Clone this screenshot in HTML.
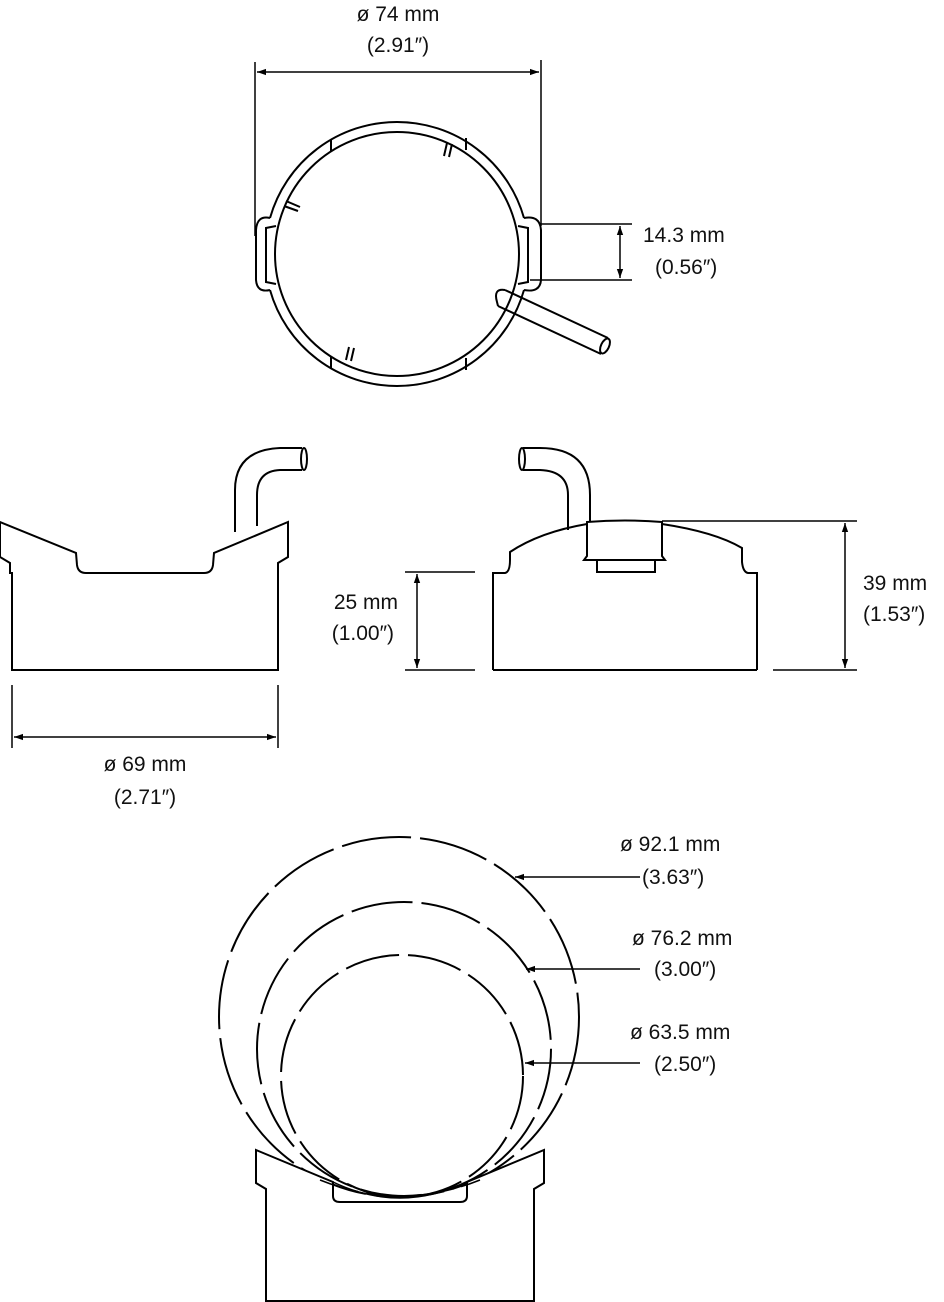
<!DOCTYPE html>
<html><head><meta charset="utf-8"><style>
html,body{margin:0;padding:0;background:#fff}
svg{display:block}
text{font-family:"Liberation Sans",sans-serif;font-size:21px;fill:#111}
</style></head><body>
<svg width="944" height="1302" viewBox="0 0 944 1302" xmlns="http://www.w3.org/2000/svg">
<defs>
<marker id="a" viewBox="0 0 10 10" refX="10" refY="5" markerWidth="9" markerHeight="9" orient="auto-start-reverse" markerUnits="userSpaceOnUse"><path d="M0,1.5 L10,5 L0,8.5 z" fill="#000"/></marker>
</defs>
<g fill="none" stroke="#000" stroke-width="2">
<!-- top view -->
<path d="M270,218 A132,132 0 0 1 524,218 M270,290 A132,132 0 0 0 524,290"/>
<path d="M270,218 Q257,215 256,230 L256,280 Q257,293 270,290"/>
<path d="M524,218 Q540,215 541,230 L541,280 Q540,293 524,290"/>
<path d="M276,226 L266,228 L266,282 L276,284"/>
<path d="M518,226 L528,228 L528,282 L518,284"/>
<circle cx="397" cy="254" r="122"/>
<line x1="331" y1="139" x2="331" y2="151"/><line x1="466" y1="138" x2="466" y2="150"/>
<line x1="331" y1="357" x2="331" y2="369"/><line x1="466" y1="358" x2="466" y2="370"/>
<path d="M447,143 L444,156 M452,144 L449,157"/>
<path d="M286,201 L300,207 M284,206 L298,211"/>
<path d="M349,347 L346,360 M354,348 L351,361"/>
<path d="M505,290 L608,338 M498,306 L601,354"/>
<path d="M505,290 Q493,288 497,302 L498,306"/>
<ellipse cx="605" cy="346" rx="4" ry="8" transform="rotate(25 605 346)"/>
<!-- dims top -->
<line x1="255" y1="62" x2="255" y2="236" stroke-width="1.5"/>
<line x1="541" y1="60" x2="541" y2="226" stroke-width="1.5"/>
<line x1="257" y1="72" x2="539" y2="72" marker-start="url(#a)" marker-end="url(#a)" stroke-width="1.5"/>
<line x1="541" y1="224" x2="632" y2="224" stroke-width="1.5"/>
<line x1="530" y1="280" x2="632" y2="280" stroke-width="1.5"/>
<line x1="620" y1="226" x2="620" y2="278" marker-start="url(#a)" marker-end="url(#a)" stroke-width="1.5"/>
<!-- left side view -->
<path d="M0,522 L76,553 L77,565 Q78,573 86,573 L204,573 Q212,573 213,565 L214,553 L288,522 L288,557 L278,563 L278,573 L278,670 L12,670 L12,573 L10,573 L10,563 L0,557 Z"/>
<path d="M235,532 L235,490 Q235,450 280,448 L302,448 M257,526 L257,495 Q257,471 280,470 L302,470"/>
<ellipse cx="304" cy="459" rx="3" ry="11"/>
<!-- right side view -->
<path d="M493,670 L757,670 M493,670 L493,573 L505,573 Q510,572 510,560 L510,552 Q540,532 587,524"/>
<path d="M662,524 Q715,532 742,548 L742,562 Q743,572 748,573 L757,573 L757,670"/>
<path d="M587,522 L587,556 L584,560 L665,560 L662,556 L662,522 Q625,519 587,522 Z"/>
<path d="M597,560 L597,572 L655,572 L655,560"/>
<path d="M568,530 L568,495 Q568,471 540,470 L523,470 M590,522 L590,495 Q590,448 540,448 L523,448"/>
<ellipse cx="522" cy="459" rx="3" ry="11"/>
<!-- dims mid -->
<line x1="405" y1="572" x2="475" y2="572" stroke-width="1.5"/>
<line x1="405" y1="670" x2="475" y2="670" stroke-width="1.5"/>
<line x1="417" y1="574" x2="417" y2="668" marker-start="url(#a)" marker-end="url(#a)" stroke-width="1.5"/>
<line x1="662" y1="521" x2="857" y2="521" stroke-width="1.5"/>
<line x1="773" y1="670" x2="857" y2="670" stroke-width="1.5"/>
<line x1="845" y1="523" x2="845" y2="668" marker-start="url(#a)" marker-end="url(#a)" stroke-width="1.5"/>
<line x1="12" y1="685" x2="12" y2="748" stroke-width="1.5"/>
<line x1="278" y1="685" x2="278" y2="748" stroke-width="1.5"/>
<line x1="14" y1="737" x2="276" y2="737" marker-start="url(#a)" marker-end="url(#a)" stroke-width="1.5"/>
<!-- bottom circles -->
<circle cx="399" cy="1017" r="180" stroke-dasharray="70 9"/>
<circle cx="404" cy="1049" r="147" stroke-dasharray="62 9"/>
<circle cx="402" cy="1076" r="121" stroke-dasharray="55 9"/>
<line x1="640" y1="877" x2="515" y2="877" marker-end="url(#a)" stroke-width="1.5"/>
<line x1="640" y1="969" x2="526" y2="969" marker-end="url(#a)" stroke-width="1.5"/>
<line x1="640" y1="1063" x2="525" y2="1063" marker-end="url(#a)" stroke-width="1.5"/>
<!-- bottom cradle -->
<path d="M256,1150 L333,1182 L333,1196 Q333,1202 340,1202 L460,1202 Q467,1202 467,1196 L467,1182 L544,1150 L544,1183 L534,1189 L534,1202 L534,1301 L266,1301 L266,1202 L266,1189 L256,1183 Z" fill="#fff"/>
<path d="M333,1182 Q400,1214 467,1182" stroke-width="1.5"/>
<path d="M320,1180 Q400,1212 480,1180" stroke-width="1.5" stroke-dasharray="40 8"/>
</g>
<g>
<text x="398" y="21" text-anchor="middle">ø 74 mm</text>
<text x="398" y="52" text-anchor="middle">(2.91″)</text>
<text x="643" y="242">14.3 mm</text>
<text x="655" y="274">(0.56″)</text>
<text x="398" y="609" text-anchor="end">25 mm</text>
<text x="394" y="640" text-anchor="end">(1.00″)</text>
<text x="863" y="590">39 mm</text>
<text x="863" y="621">(1.53″)</text>
<text x="145" y="771" text-anchor="middle">ø 69 mm</text>
<text x="145" y="804" text-anchor="middle">(2.71″)</text>
<text x="620" y="851">ø 92.1 mm</text>
<text x="642" y="884">(3.63″)</text>
<text x="632" y="945">ø 76.2 mm</text>
<text x="654" y="976">(3.00″)</text>
<text x="630" y="1039">ø 63.5 mm</text>
<text x="654" y="1071">(2.50″)</text>
</g>
</svg>
</body></html>
